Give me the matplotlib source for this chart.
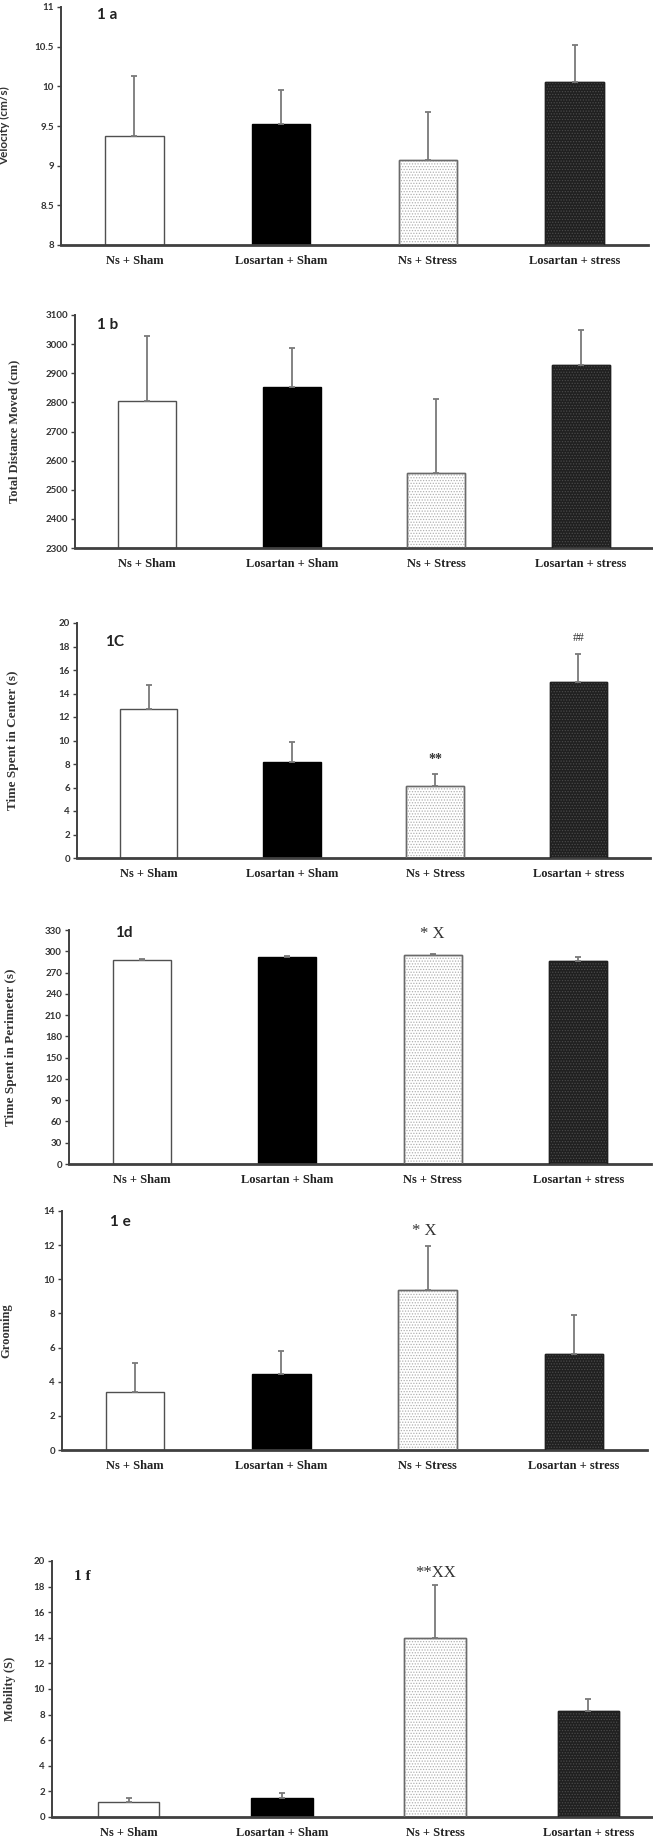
import matplotlib
matplotlib.use("Agg")
import matplotlib.pyplot as plt
import numpy as np

categories = ["Ns + Sham", "Losartan + Sham", "Ns + Stress", "Losartan + stress"]

velocity = [9.38, 9.52, 9.07, 10.05]
velocity_err = [0.75, 0.43, 0.61, 0.47]
velocity_ticks = [8, 8.5, 9, 9.5, 10, 10.5, 11]

distance = [2806, 2854, 2559, 2929]
distance_err = [223, 132, 253, 120]
distance_ticks = [2300, 2400, 2500, 2600, 2700, 2800, 2900, 3000, 3100]

center = [12.68, 8.14, 6.16, 14.95]
center_err = [2.07, 1.73, 0.99, 2.41]
center_ticks = [0, 2, 4, 6, 8, 10, 12, 14, 16, 18, 20]

perimeter = [287.6, 292.4, 294.8, 286.2]
perimeter_err = [2.0, 0.3, 1.0, 6.2]
perimeter_ticks = [0, 30, 60, 90, 120, 150, 180, 210, 240, 270, 300, 330]

grooming = [3.37, 4.43, 9.40, 5.60]
grooming_err = [1.73, 1.38, 2.53, 2.30]
grooming_ticks = [0, 2, 4, 6, 8, 10, 12, 14]

mobility = [1.14, 1.45, 13.95, 8.26]
mobility_err = [0.34, 0.42, 4.15, 0.94]
mobility_ticks = [0, 2, 4, 6, 8, 10, 12, 14, 16, 18, 20]

W, H = 653, 1847
fig = plt.figure(figsize=(W / 100, H / 100), dpi=100)
plt.rcParams["hatch.linewidth"] = 0.6

SERIF = "Liberation Serif"
SANS = "Lato"

bar_face = ["white", "black", "white", "#202020"]
bar_edge = ["#505050", "black", "#6a6a6a", "#202020"]
bar_hatch = [None, None, "......", "......"]
hatch_col = [None, None, "#b0b0b0", "#4a4a4a"]


def panel(rect_px, values, errs, ticks, ylabel, ylabel_x, ylabel_font, ylabel_size,
          tag, tag_pos, tag_font, tag_size, notes):
    left, right, top, bottom = rect_px
    ax = fig.add_axes([left / W, 1 - bottom / H, (right - left) / W, (bottom - top) / H])
    x = np.arange(len(values))
    for i in range(len(values)):
        ax.bar(x[i], values[i] - ticks[0], bottom=ticks[0], width=0.4,
               color=bar_face[i], edgecolor=bar_edge[i], linewidth=1.0, zorder=2)
        if bar_hatch[i]:
            ax.bar(x[i], values[i] - ticks[0], bottom=ticks[0], width=0.4,
                   color="none", edgecolor=hatch_col[i], hatch=bar_hatch[i],
                   linewidth=0, zorder=2.5)
            ax.bar(x[i], values[i] - ticks[0], bottom=ticks[0], width=0.4,
                   color="none", edgecolor=bar_edge[i], linewidth=1.0, zorder=2.6)
    ax.errorbar(x, values, yerr=[np.zeros(len(errs)), errs], fmt="none",
                ecolor="#7a7a7a", elinewidth=1.3, capsize=2, capthick=1.3, zorder=3)
    ax.set_xlim(-0.5, len(values) - 0.5)
    ax.set_ylim(ticks[0], ticks[-1])
    ax.set_yticks(ticks)
    ax.set_yticklabels([f"{t:g}" for t in ticks], fontfamily=SANS, fontweight="bold",
                       fontsize=7, color="#333333")
    ax.set_xticks(x)
    ax.set_xticklabels(categories, fontfamily=SERIF, fontweight="bold",
                       fontsize=9, color="#222222")
    ax.tick_params(axis="x", length=0, pad=7)
    ax.tick_params(axis="y", length=3, width=1, color="#404040", pad=2)
    for s in ["top", "right"]:
        ax.spines[s].set_visible(False)
    ax.spines["left"].set_color("#404040")
    ax.spines["left"].set_linewidth(1.4)
    ax.spines["bottom"].set_color("#404040")
    ax.spines["bottom"].set_linewidth(2)
    ax.set_ylabel(ylabel, fontfamily=ylabel_font, fontweight="bold", fontsize=ylabel_size,
                  color="#333333")
    ax.yaxis.set_label_coords((ylabel_x - left) / (right - left), 0.5)
    ax.text(tag_pos[0], tag_pos[1], tag, transform=ax.transAxes, ha="center", va="center",
            fontfamily=tag_font, fontweight="bold", fontsize=tag_size, color="#222222")
    for (nx, ny, txt, size, wt) in notes:
        ax.text(nx, ny, txt, ha="center", va="center", fontfamily=SERIF,
                fontsize=size, fontweight=wt, color="#333333")
    return ax


panel((61, 648, 7, 245), velocity, velocity_err, velocity_ticks,
      "Velocity (cm/s)", 10, SANS, 8.5, "1 a", (0.078, 0.966), SANS, 11, [])

panel((75, 653, 315, 548), distance, distance_err, distance_ticks,
      "Total Distance Moved (cm)", 20, SERIF, 9, "1 b", (0.057, 0.957), SANS, 11, [])

panel((77, 650, 623, 858), center, center_err, center_ticks,
      "Time Spent in Center (s)", 19, SERIF, 9.5, "1C", (0.066, 0.92), SANS, 11,
      [(2, 8.4, "**", 10, "bold"), (3, 18.7, "##", 8.5, "normal")])

panel((69, 651, 930, 1164), perimeter, perimeter_err, perimeter_ticks,
      "Time Spent in Perimeter (s)", 17, SERIF, 9.5, "1d", (0.095, 0.987), SANS, 11,
      [(2, 325, "* X", 12, "normal")])

panel((62, 647, 1211, 1450), grooming, grooming_err, grooming_ticks,
      "Grooming", 12, SERIF, 9, "1 e", (0.10, 0.954), SANS, 11,
      [(1.98, 12.8, "* X", 12, "normal")])

panel((52, 665, 1561, 1817), mobility, mobility_err, mobility_ticks,
      "Mobility (S)", 16, SERIF, 9, "1 f", (0.05, 0.94), SERIF, 11,
      [(2, 19.1, "**XX", 12, "normal")])

fig.savefig("out.png", dpi=100)
